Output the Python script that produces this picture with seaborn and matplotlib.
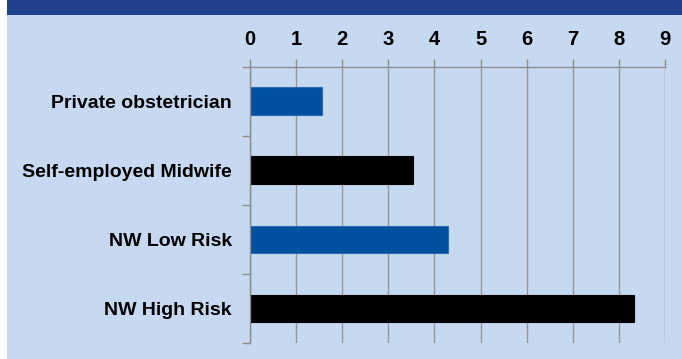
import pandas as pd
import matplotlib.pyplot as plt
import seaborn as sns
from matplotlib.patches import Rectangle
from matplotlib.ticker import FixedLocator

# Datos del gráfico
categories = ["Private obstetrician", "Self-employed Midwife", "NW Low Risk", "NW High Risk"]
values = [1.56, 3.54, 4.29, 8.33]
bar_colors = ["#0050A0", "#000000", "#0050A0", "#000000"]
edge_colors = ["#2E6DB4", "#000000", "#2E6DB4", "#000000"]
x_ticks = [0, 1, 2, 3, 4, 5, 6, 7, 8, 9]

df = pd.DataFrame({"category": categories, "value": values})

sns.set_theme(style="white")
plt.rcParams['font.family'] = ['Liberation Sans', 'DejaVu Sans']

W, H = 682, 359
fig = plt.figure(figsize=(W / 100, H / 100), dpi=100, facecolor="white")

# Fondo azul claro y banda superior
fig.patches.append(Rectangle((7 / W, 0), 1 - 7 / W, 1, transform=fig.transFigure,
                             facecolor="#C6D9F0", edgecolor="none", zorder=-2))
fig.patches.append(Rectangle((7 / W, 1 - 15 / H), 1 - 7 / W, 15 / H, transform=fig.transFigure,
                             facecolor="#21418C", edgecolor="none", zorder=-1))

ax = fig.add_axes([250 / W, 1 - 343 / H, (665 - 250) / W, (343 - 66.7) / H])
ax.set_facecolor("none")
ax.set_zorder(1)

sns.barplot(data=df, x="value", y="category", hue="category", palette=bar_colors,
            orient="h", width=0.4, legend=False, ax=ax, saturation=1, linewidth=0)

# Bordes de las barras (cada barra según su categoría)
for bar in ax.patches:
    idx = int(round(bar.get_y() + bar.get_height() / 2))
    bar.set_edgecolor(edge_colors[idx])
    bar.set_linewidth(0.8)

ax.set_xlim(0, 9)
ax.set_ylim(len(categories) - 0.5, -0.5)
ax.set_xticks(x_ticks)
ax.xaxis.tick_top()
ax.set_xlabel("")
ax.set_ylabel("")

for s in ["right", "bottom"]:
    ax.spines[s].set_visible(False)
for s in ["top", "left"]:
    ax.spines[s].set_color("#8C8C8C")
    ax.spines[s].set_linewidth(1.0)

ax.grid(axis="x", color="#969696", linewidth=1.0)
ax.set_axisbelow(True)

ax.tick_params(axis="x", which="major", top=True, bottom=False, length=6, width=1,
               color="#8C8C8C", pad=7, labelsize=14.5)
for lbl in ax.get_xticklabels():
    lbl.set_fontweight("bold")
    lbl.set_color("black")

ax.tick_params(axis="y", which="major", left=False, length=0, pad=13, labelsize=14)
for lbl in ax.get_yticklabels():
    lbl.set_fontweight("bold")
    lbl.set_color("black")
ax.yaxis.set_minor_locator(FixedLocator([i - 0.5 for i in range(len(categories) + 1)]))
ax.tick_params(axis="y", which="minor", left=True, length=6, width=1, color="#8C8C8C")

fig.savefig("out.png", dpi=100)
plt.close(fig)
